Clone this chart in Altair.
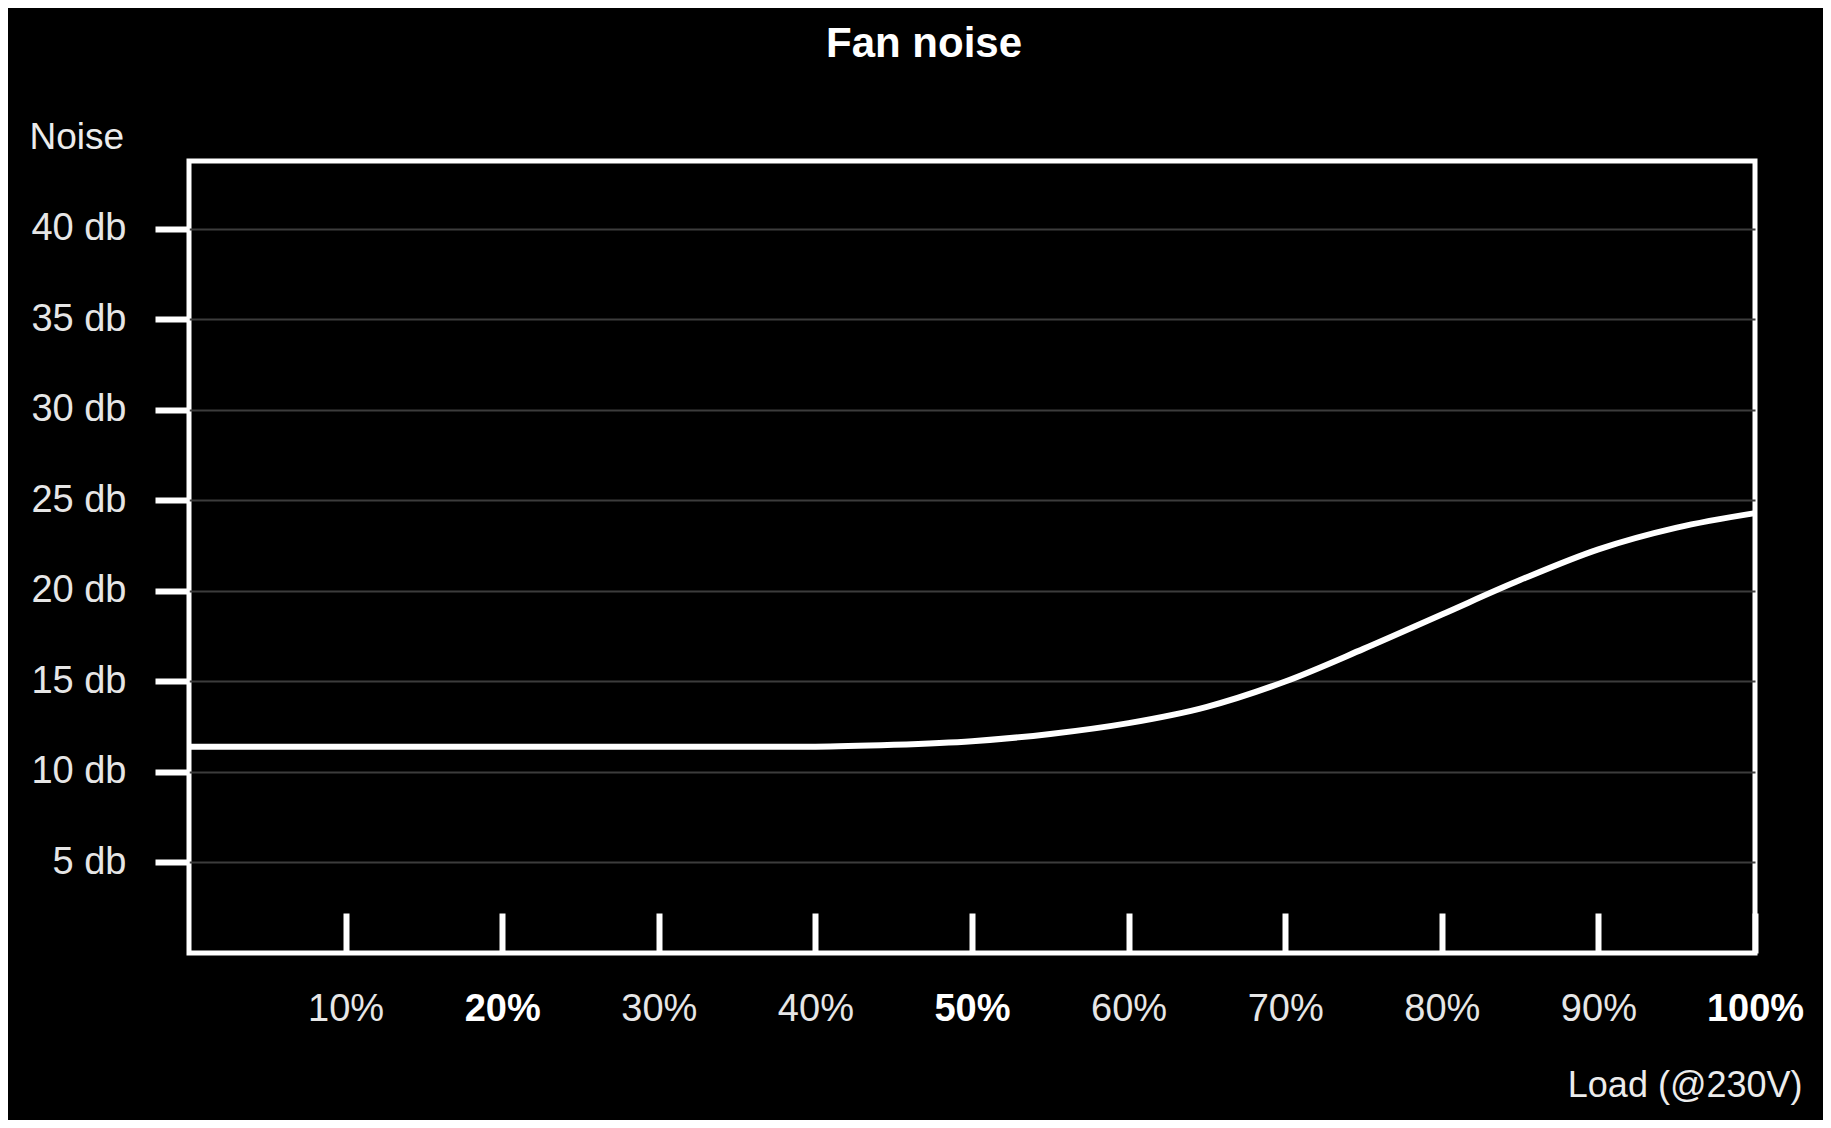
import altair as alt
import pandas as pd

# Data
load_pct = [0, 10, 20, 30, 40, 45, 50, 55, 60, 65, 70, 75, 80, 85, 90, 95, 100]
noise_db = [11.4, 11.4, 11.4, 11.4, 11.4, 11.5, 11.7, 12.1, 12.7, 13.6, 15.0, 16.8, 18.7, 20.6, 22.3, 23.5, 24.3]

x_ticks = [10, 20, 30, 40, 50, 60, 70, 80, 90, 100]
x_bold = [20, 50, 100]
y_ticks = [5, 10, 15, 20, 25, 30, 35, 40]

df = pd.DataFrame({"load": load_pct, "noise": noise_db})

FONT = "Liberation Sans"
bold_list = "[" + ",".join(str(v) for v in x_bold) + "]"
bold_expr = "indexof(" + bold_list + ", datum.value) >= 0 ? 'bold' : 'normal'"
color_expr = "indexof(" + bold_list + ", datum.value) >= 0 ? '#ffffff' : '#e6e6e6'"

chart = alt.Chart(df).mark_line(
    color="#ffffff", strokeWidth=6, interpolate="monotone"
).encode(
    x=alt.X(
        "load:Q",
        scale=alt.Scale(domain=[0, 100], nice=False, zero=False),
        axis=alt.Axis(
            values=x_ticks,
            labelExpr="datum.value + '%'",
            labelFontWeight=alt.ExprRef(expr=bold_expr),
            labelColor=alt.ExprRef(expr=color_expr),
            labelFont=FONT,
            labelFontSize=38,
            labelPadding=37,
            labelFlush=False,
            labelOverlap=False,
            tickSize=40,
            tickWidth=6,
            tickColor="#ffffff",
            offset=-40,
            domain=False,
            grid=False,
            title="Load (@230V)",
            titleFont=FONT,
            titleFontSize=36,
            titleFontWeight="normal",
            titleColor="#ececec",
            titleX=1613,
            titleY=172,
            titleAlign="right",
            titleBaseline="middle",
            titleAnchor="end",
        ),
    ),
    y=alt.Y(
        "noise:Q",
        scale=alt.Scale(domain=[0, 43.75], nice=False, zero=True),
        axis=alt.Axis(
            values=y_ticks,
            labelExpr="datum.value + ' db'",
            labelFont=FONT,
            labelFontSize=38,
            labelColor="#e6e6e6",
            labelPadding=29,
            tickSize=34,
            tickWidth=6,
            tickColor="#ffffff",
            domain=False,
            grid=True,
            gridColor="#3c3c3c",
            gridWidth=2,
            title="Noise",
            titleFont=FONT,
            titleFontSize=37,
            titleFontWeight="normal",
            titleColor="#ececec",
            titleAngle=0,
            titleX=-160,
            titleY=-24,
            titleAlign="left",
            titleBaseline="middle",
        ),
    ),
).properties(
    width=1566,
    height=792,
    title=alt.TitleParams(
        text="Fan noise",
        font=FONT,
        fontSize=42,
        fontWeight="bold",
        color="#ffffff",
        anchor="middle",
        frame="group",
        baseline="middle",
        offset=32,
        dx=-48,
    ),
    autosize=alt.AutoSizeParams(type="none"),
    padding={"left": 181, "top": 153, "right": 68, "bottom": 167},
    background="#000000",
).configure_view(
    stroke="#ffffff",
    strokeWidth=5,
)

chart.save("out.html", embed_options={"renderer": "svg", "actions": False})
